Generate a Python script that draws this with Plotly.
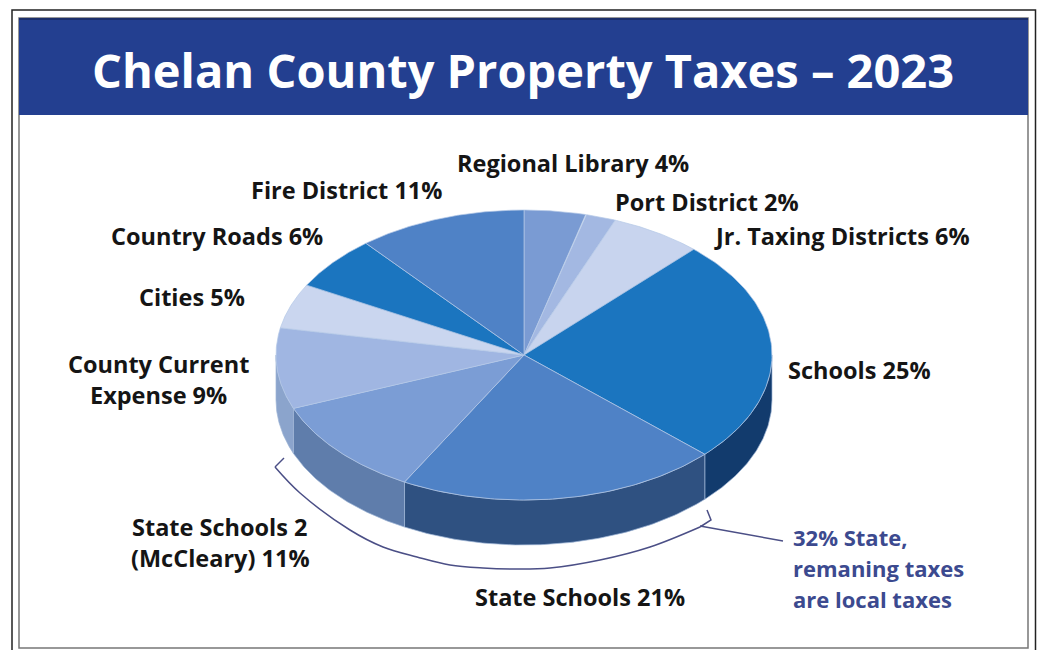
import numpy as np
import plotly.graph_objects as go

# --- data -------------------------------------------------------------
names = ["Regional Library", "Port District", "Jr. Taxing Districts", "Schools",
         "State Schools", "State Schools 2<br>(McCleary)", "County Current<br>Expense",
         "Cities", "Country Roads", "Fire District"]
shares = [4, 2, 6, 25, 21, 11, 9, 5, 6, 11]
title_text = "Chelan County Property Taxes – 2023"
note_text = "32% State,<br>remaning taxes<br>are local taxes"

# --- styles -----------------------------------------------------------
top_colors = ["#7A9BD3", "#A3B8E2", "#C8D4EE", "#1B75BF", "#4F82C6",
              "#7B9DD5", "#A0B6E2", "#CAD6EF", "#1B75BF", "#4F82C6"]
side_colors = ["#5F7FB0", "#7F97C0", "#9AAAC8", "#123B6D", "#2F5181",
               "#5F7DAB", "#8BA4CC", "#9AAAC8", "#123B6D", "#2F5181"]
label_pos = [(573, 163), (707, 202), (842, 236), (859, 370), (580, 597),
             (220, 527), (158, 364), (192, 297), (217, 236), (346, 190)]
LINE_GAP = 31
CX, CY, RX, RY, DEPTH = 524, 355, 248, 145, 45
FONT = "Open Sans"
W, H = 1043, 650

fig = go.Figure()


def arc(a0, a1):
    t = np.radians(np.linspace(a0, a1, 80))
    return CX + RX * np.sin(t), CY - RY * np.cos(t)


edges = np.concatenate([[0], np.cumsum(shares)]) / sum(shares) * 360

# side wall (only the near half of the rim is visible)
for i in range(len(shares)):
    a0, a1 = max(edges[i], 90), min(edges[i + 1], 270)
    if a1 <= a0:
        continue
    x, y = arc(a0, a1)
    fig.add_trace(go.Scatter(
        x=np.concatenate([x, x[::-1], x[:1]]),
        y=np.concatenate([y, y[::-1] + DEPTH, y[:1]]),
        mode="lines", fill="toself", fillcolor=side_colors[i],
        line=dict(color="#9DB4D6", width=0.7), hoverinfo="skip", showlegend=False))

# top face
for i in range(len(shares)):
    x, y = arc(edges[i], edges[i + 1])
    fig.add_trace(go.Scatter(
        x=np.concatenate([[CX], x, [CX]]),
        y=np.concatenate([[CY], y, [CY]]),
        mode="lines", fill="toself", fillcolor=top_colors[i],
        line=dict(color="#B5C8E6", width=0.7),
        name=names[i].replace("<br>", " "), text=f"{shares[i]}%", hoverinfo="name+text",
        showlegend=False))

# bracket under the state slices, and its leader
brace_x = [284, 275, 300, 350, 383, 417, 450, 483, 517, 550, 600, 650, 700, 711, 707]
brace_y = [458, 467, 493, 530, 547, 557, 565, 568, 569, 568, 560, 547, 527, 520, 510]
fig.add_trace(go.Scatter(x=brace_x[:2], y=brace_y[:2], mode="lines",
                         line=dict(color="#4B4F86", width=1.5),
                         hoverinfo="skip", showlegend=False))
fig.add_trace(go.Scatter(x=brace_x[1:-2], y=brace_y[1:-2], mode="lines",
                         line=dict(color="#4B4F86", width=1.5, shape="spline", smoothing=1),
                         hoverinfo="skip", showlegend=False))
fig.add_trace(go.Scatter(x=brace_x[-3:], y=brace_y[-3:], mode="lines",
                         line=dict(color="#4B4F86", width=1.5),
                         hoverinfo="skip", showlegend=False))
fig.add_trace(go.Scatter(x=[700, 783], y=[526, 541], mode="lines",
                         line=dict(color="#4B4F86", width=1.5),
                         hoverinfo="skip", showlegend=False))

# labels
for name, share, (lx, ly) in zip(names, shares, label_pos):
    lines = f"{name} {share}%".split("<br>")
    for k, line in enumerate(lines):
        fig.add_annotation(x=lx, y=ly + k * LINE_GAP, xref="x", yref="y", showarrow=False,
                           text=f"<b>{line}</b>",
                           font=dict(family=FONT, size=23.5, color="#151515"))

for k, line in enumerate(note_text.split("<br>")):
    fig.add_annotation(x=791, y=537 + k * 31, xref="x", yref="y", showarrow=False,
                       xanchor="left", text=f"<b>{line}</b>",
                       font=dict(family=FONT, size=22, color="#3C4A8F"))
fig.add_annotation(x=523, y=70, xref="x", yref="y", showarrow=False,
                   text=f"<b>{title_text}</b>",
                   font=dict(family=FONT, size=47, color="white"))

shapes = [
    dict(type="rect", x0=12, y0=10, x1=1035.5, y1=660, line=dict(color="#222222", width=1.5), layer="below"),
    dict(type="rect", x0=19, y0=18, x1=1028, y1=648, line=dict(color="#777777", width=1.5), layer="below"),
    dict(type="rect", x0=19, y0=18, x1=1028, y1=115, fillcolor="#233F90",
         line=dict(color="#233F90", width=0), layer="below"),
    dict(type="line", x0=19, y0=19, x1=1028, y1=19, line=dict(color="#1C2F6B", width=2), layer="below"),
]

fig.update_layout(
    width=W, height=H, margin=dict(l=0, r=0, t=0, b=0),
    paper_bgcolor="white", plot_bgcolor="white", shapes=shapes,
    xaxis=dict(range=[0, W], visible=False, fixedrange=True),
    yaxis=dict(range=[H, 0], visible=False, fixedrange=True),
    showlegend=False,
)
fig.write_html("out.html", config={"displayModeBar": False},
               post_script='document.body.style.margin="0";document.body.style.overflow="hidden";')
